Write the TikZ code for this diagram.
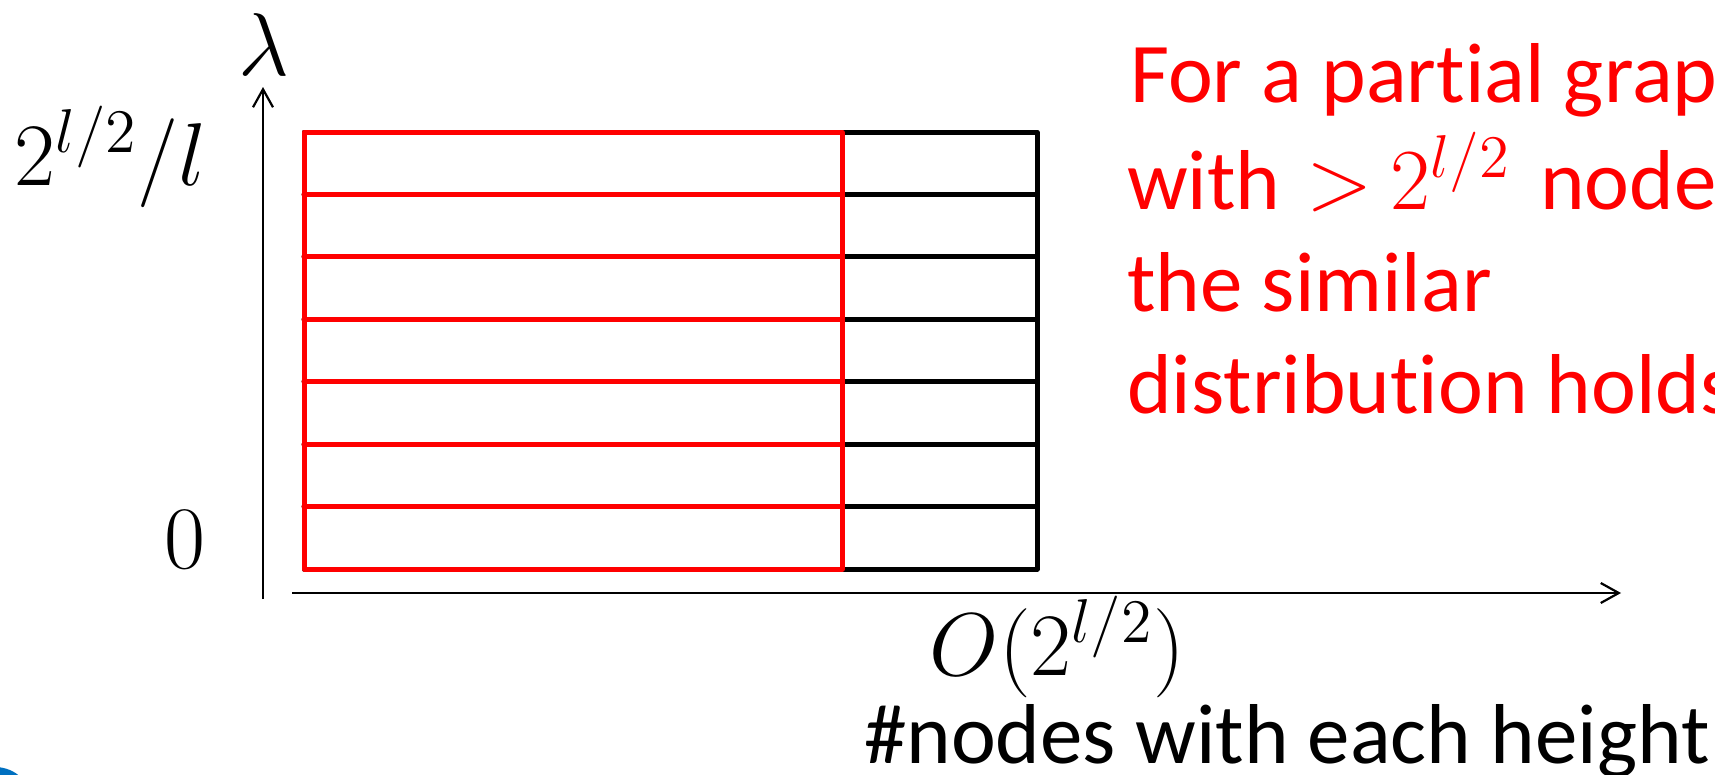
\documentclass[tikz,border=0pt]{standalone}
\usepackage{fontspec}
\newfontfamily\calibri[Ligatures=NoCommon]{Carlito}
\usetikzlibrary{arrows.meta}

\definecolor{logoblue}{HTML}{0070C0}

\tikzset{
  axis/.style={line width=2.2pt, -{Straight Barb[length=18pt,width=20pt,line width=2.2pt]}},
  gridblack/.style={line width=5pt, draw=black, line cap=round, line join=round},
  gridred/.style={line width=5pt, draw=red, line cap=round, line join=round},
  mathlbl/.style={inner sep=0pt, scale=4.3, font=\fontsize{20.74}{24}\selectfont},
  axtext/.style={inner sep=0pt, font=\calibri\fontsize{85}{100}\selectfont},
  redtext/.style={inner sep=0pt, text=red, font=\calibri\fontsize{85}{104}\selectfont},
  redmath/.style={inner sep=0pt, text=red, scale=4.2, font=\fontsize{20.74}{24}\selectfont},
}

\begin{document}
\begin{tikzpicture}[x=1pt, y=-1pt]
  \useasboundingbox (0,0) rectangle (1715,774);
  \clip (0,0) rectangle (1715,774);
  \fill[white] (0,0) rectangle (1715,774);

  % corner of the logo disc
  \fill[logoblue] (-5,805) circle (38);

  % axes
  \coordinate (y0) at (263,599);
  \coordinate (y1) at (263,87);
  \coordinate (x0) at (292,593);
  \coordinate (x1) at (1621,593);
  \draw[axis] (y0) -- (y1);
  \draw[axis] (x0) -- (x1);

  % full grid of heights (black)
  \draw[gridblack] (304,132) rectangle (1037,569);
  \foreach \k in {1,...,6}
    \draw[gridblack] (304,{132+\k*62.43}) -- (1037,{132+\k*62.43});

  % partial graph part (red)
  \draw[gridred] (304,132) rectangle (842,569);
  \foreach \k in {1,...,6}
    \draw[gridred] (304,{132+\k*62.43}) -- (842,{132+\k*62.43});

  % axis labels
  \node[mathlbl, anchor=base] (lam) at (264,75) {$\lambda$};
  \node[mathlbl, anchor=base west] (ytop) at (14,185) {$2^{l/2}/l$};
  \node[mathlbl, anchor=base west] (ybot) at (164,568) {$0$};
  \node[mathlbl, anchor=base west] (xmax) at (929,675) {$O(2^{l/2})$};
  \node[axtext, anchor=base west] (xlab) at (864,763) {\#nodes with each height};

  % note
  \node[redtext, anchor=base west] (n1) at (1130,102) {For a partial graph};
  \node[redtext, anchor=base west] (n2a) at (1127,209) {with};
  \node[redmath, anchor=base west] (n2b) at (1306,209) {$>$};
  \node[redmath, anchor=base west] (n2c) at (1390,209) {$2^{l/2}$};
  \node[redtext, anchor=base west] (n2d) at ([xshift=28pt]n2c.base east) {nodes};
  \node[redtext, anchor=base west] (n3) at (1127,311) {the similar};
  \node[redtext, anchor=base west] (n4) at (1127,413) {distribution holds};
\end{tikzpicture}
\end{document}
